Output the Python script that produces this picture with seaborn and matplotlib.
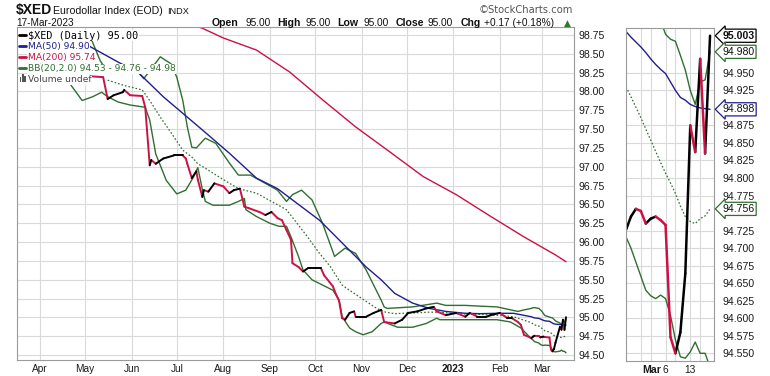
import matplotlib
matplotlib.use("Agg")
import matplotlib.pyplot as plt
from matplotlib.lines import Line2D
from matplotlib.patches import Rectangle
import numpy as np
import pandas as pd
import seaborn as sns

sns.set_theme(style="white")
plt.rcParams["font.family"] = ["Liberation Sans", "DejaVu Sans"]

# ------------------------------------------------------------------ data
price_dates = ["2022-05-06","2022-05-13","2022-05-16","2022-05-20","2022-05-26","2022-05-27","2022-05-31",
               "2022-06-08","2022-06-10","2022-06-13","2022-06-14","2022-06-17","2022-06-22","2022-06-29",
               "2022-07-05","2022-07-07","2022-07-08","2022-07-11","2022-07-14","2022-07-15","2022-07-18","2022-07-19","2022-07-22","2022-07-26",
               "2022-08-01","2022-08-05","2022-08-08","2022-08-12","2022-08-15","2022-08-18","2022-08-25","2022-08-29",
               "2022-09-02","2022-09-06","2022-09-09","2022-09-12","2022-09-15","2022-09-16","2022-09-20","2022-09-23","2022-09-26",
               "2022-10-05","2022-10-07","2022-10-13","2022-10-14","2022-10-17","2022-10-19","2022-10-21","2022-10-24","2022-10-27","2022-10-28","2022-10-31",
               "2022-11-04","2022-11-09","2022-11-14","2022-11-16","2022-11-23","2022-11-28",
               "2022-12-02","2022-12-08","2022-12-14","2022-12-19","2022-12-21","2022-12-27",
               "2023-01-03","2023-01-09","2023-01-12","2023-01-17","2023-01-23","2023-01-26",
               "2023-02-01","2023-02-06","2023-02-09","2023-02-13","2023-02-15","2023-02-17"]
price_values = [98.20,98.19,97.90,97.95,97.99,98.02,97.95,
                97.94,97.79,97.02,97.09,97.04,97.11,97.15,
                97.15,97.11,97.04,96.85,96.94,96.83,96.60,96.69,96.67,96.78,
                96.74,96.65,96.69,96.71,96.47,96.45,96.40,96.36,
                96.40,96.32,96.29,96.16,96.03,95.72,95.67,95.61,95.65,
                95.65,95.56,95.41,95.35,95.22,94.99,94.97,95.06,95.08,95.01,95.01,
                95.01,95.06,95.10,94.94,94.92,94.97,
                95.06,95.08,95.12,95.14,95.08,95.03,
                95.06,95.01,95.06,95.01,95.01,95.03,
                95.06,94.99,94.99,94.94,94.90,94.77]

ma50_dates = ["2022-05-03","2022-05-23","2022-06-06","2022-06-22","2022-07-05","2022-07-18","2022-08-05","2022-08-23",
              "2022-09-06","2022-09-16","2022-10-04","2022-10-17","2022-11-04","2022-11-14","2022-11-23","2022-12-05",
              "2022-12-16","2022-12-27","2023-01-09","2023-01-19","2023-01-30","2023-02-10"]
ma50_values = [98.61,98.39,98.24,97.93,97.71,97.49,97.18,96.85,96.71,96.56,96.29,96.03,95.67,95.50,95.32,95.19,
               95.12,95.08,95.055,95.05,95.055,95.055]

ma200_dates = ["2022-07-08","2022-07-18","2022-08-01","2022-08-23","2022-09-14","2022-10-06","2022-10-28","2022-11-21",
               "2022-12-12","2023-01-03","2023-01-26","2023-02-17","2023-03-10","2023-03-17"]
ma200_values = [98.90,98.84,98.71,98.55,98.26,97.89,97.53,97.18,96.87,96.63,96.34,96.07,95.83,95.74]

bbu_dates = ["2022-05-05","2022-05-11","2022-05-13","2022-05-24","2022-06-06","2022-06-09","2022-06-14","2022-06-20","2022-06-27",
             "2022-07-01","2022-07-05","2022-07-08","2022-07-11","2022-07-14","2022-07-20","2022-07-27",
             "2022-08-05","2022-08-11","2022-08-19","2022-08-29","2022-09-06","2022-09-12","2022-09-16","2022-09-22","2022-09-29",
             "2022-10-06","2022-10-14","2022-10-21","2022-10-28","2022-11-04","2022-11-14","2022-11-16","2022-11-18",
             "2022-12-05","2022-12-21","2022-12-27","2023-01-09","2023-01-19","2023-01-30","2023-02-13","2023-02-17"]
bbu_values = [98.70,98.41,98.35,98.27,98.24,98.17,98.30,98.46,98.37,
              98.19,97.88,97.53,97.26,97.25,97.38,97.31,
              97.05,96.89,96.89,96.78,96.69,96.54,96.63,96.69,96.56,
              96.25,95.81,95.92,95.85,95.63,95.23,95.14,95.12,
              95.14,95.19,95.16,95.16,95.15,95.14,95.08,95.10]

bbm_dates = ["2022-05-16","2022-05-27","2022-06-08","2022-06-13","2022-06-20","2022-06-29","2022-07-05","2022-07-11","2022-07-15","2022-07-20",
             "2022-08-01","2022-08-11","2022-08-23","2022-09-02","2022-09-12","2022-09-19","2022-09-26","2022-10-04","2022-10-11","2022-10-19",
             "2022-10-24","2022-11-02","2022-11-11","2022-11-17","2022-11-23","2022-12-05","2022-12-16","2022-12-22","2023-01-03","2023-01-19",
             "2023-01-30","2023-02-10"]
bbm_values = [98.15,98.08,98.02,97.88,97.66,97.40,97.22,97.13,97.04,96.98,
              96.83,96.71,96.65,96.54,96.43,96.25,96.07,95.85,95.68,95.43,
              95.36,95.24,95.12,95.07,95.05,95.06,95.07,95.07,95.05,95.04,
              95.03,95.01]

bbl_dates = ["2022-04-21","2022-04-29","2022-05-06","2022-05-12","2022-05-16","2022-05-23","2022-05-31",
             "2022-06-10","2022-06-13","2022-06-17","2022-06-24","2022-07-01","2022-07-07","2022-07-12","2022-07-15","2022-07-18","2022-07-20","2022-07-25",
             "2022-08-05","2022-08-11","2022-08-15","2022-08-16","2022-08-23","2022-09-01","2022-09-07","2022-09-12","2022-09-15","2022-09-20","2022-09-23","2022-09-29",
             "2022-10-06","2022-10-13","2022-10-17","2022-10-19","2022-10-24","2022-10-28","2022-11-02","2022-11-08","2022-11-14","2022-11-16","2022-11-21","2022-11-25",
             "2022-12-05","2022-12-14","2022-12-21","2022-12-23","2023-01-09","2023-01-19","2023-01-30","2023-02-08","2023-02-15"]
bbl_values = [98.10,97.88,97.93,97.99,97.93,97.86,97.82,
              97.79,97.62,97.17,96.82,96.64,96.69,96.86,96.99,96.70,96.54,96.49,
              96.49,96.54,96.58,96.43,96.34,96.25,96.21,96.21,96.07,95.81,95.63,95.50,
              95.43,95.36,95.23,95.01,94.86,94.81,94.77,94.81,94.92,94.94,94.90,94.87,
              94.87,94.92,94.99,94.97,94.97,94.97,94.97,94.94,94.86]

# daily detail of the last trading days (right-hand zoom panel)
mini_dates = ["2023-02-22","2023-02-23","2023-02-24","2023-02-27","2023-02-28","2023-03-01","2023-03-02","2023-03-03",
              "2023-03-06","2023-03-07","2023-03-08","2023-03-09","2023-03-10","2023-03-13","2023-03-14","2023-03-15",
              "2023-03-16","2023-03-17"]
mini_price = [94.726,94.745,94.756,94.753,94.735,94.742,94.745,94.740,94.733,94.573,94.550,94.580,94.664,94.875,94.837,94.970,94.835,95.003]
mini_ma50 = [95.009,95.001,94.994,94.987,94.979,94.970,94.962,94.955,94.949,94.937,94.925,94.915,94.911,94.905,94.902,94.900,94.899,94.898]
mini_bb_up = [95.12,95.13,95.13,95.12,95.10,95.08,95.05,95.025,95.005,94.998,94.995,94.975,94.954,94.925,94.905,94.937,94.940,94.980]
mini_bb_mid = [94.930,94.916,94.901,94.886,94.870,94.854,94.838,94.822,94.807,94.793,94.778,94.760,94.745,94.738,94.735,94.742,94.746,94.756]
mini_bb_low = [94.716,94.700,94.680,94.660,94.640,94.632,94.628,94.633,94.628,94.604,94.569,94.545,94.543,94.552,94.566,94.550,94.550,94.530]

month_ticks = ["2022-04-01","2022-05-01","2022-06-01","2022-07-01","2022-08-01","2022-09-01","2022-10-01",
               "2022-11-01","2022-12-01","2023-01-01","2023-02-01","2023-03-01"]
month_labels = ["Apr","May","Jun","Jul","Aug","Sep","Oct","Nov","Dec","2023","Feb","Mar"]
main_yticks = [94.50,94.75,95.00,95.25,95.50,95.75,96.00,96.25,96.50,96.75,97.00,97.25,97.50,97.75,98.00,98.25,98.50,98.75]
mini_yticks = [94.550,94.575,94.600,94.625,94.650,94.675,94.700,94.725,94.775,94.800,94.825,94.850,94.875,94.925,94.950]
mini_xgrid = [3, 5, 8, 10, 13, 15]
mini_xlabels = ["", "", "6", "", "13", ""]

# ------------------------------------------------------------------ style
RED = "#cc1144"
NAVY = "#1f1f8f"
GREEN = "#2f6f2f"
GRID = "#dadada"
SPINE = "#9a9a9a"
W, H = 770, 376


def fx(px):
    return px / W


def fy(py):
    return 1 - py / H


def frame(dates, vals):
    return pd.DataFrame({"date": pd.to_datetime(dates), "value": vals})


def up_down(df, xcol):
    rows = []
    for i in range(len(df) - 1):
        a, b = df.iloc[i], df.iloc[i + 1]
        d = "up" if b["value"] >= a["value"] else "down"
        rows.append((i, a[xcol], a["value"], d))
        rows.append((i, b[xcol], b["value"], d))
    return pd.DataFrame(rows, columns=["seg", xcol, "value", "dir"])


main_price = frame(price_dates + mini_dates, price_values + mini_price)
main_ma50 = frame(ma50_dates + mini_dates, ma50_values + mini_ma50)
main_ma200 = frame(ma200_dates, ma200_values)
main_bbu = frame(bbu_dates + mini_dates, bbu_values + mini_bb_up)
main_bbm = frame(bbm_dates + mini_dates, bbm_values + mini_bb_mid)
main_bbl = frame(bbl_dates + mini_dates, bbl_values + mini_bb_low)

days = list(range(len(mini_dates)))
mini = pd.DataFrame({"day": days, "price": mini_price, "ma50": mini_ma50,
                     "up": mini_bb_up, "mid": mini_bb_mid, "low": mini_bb_low})

fig = plt.figure(figsize=(W / 100, H / 100), dpi=100)
fig.patch.set_facecolor("white")

ax = fig.add_axes([fx(17), fy(360), fx(574) - fx(17), fy(27) - fy(360)])
ax2 = fig.add_axes([fx(626), fy(361), fx(714) - fx(626), fy(28) - fy(361)])

DOT = (0, (1.3, 1.6))

# ---------------------------------------------------------------- main panel
kw = dict(x="date", y="value", ax=ax, legend=False, estimator=None)
sns.lineplot(data=main_bbu, color=GREEN, linewidth=1.0, **kw)
sns.lineplot(data=main_bbl, color=GREEN, linewidth=1.0, **kw)
sns.lineplot(data=main_bbm, color=GREEN, linewidth=0.9, linestyle=DOT, **kw)
sns.lineplot(data=main_ma200, color=RED, linewidth=1.0, **kw)
sns.lineplot(data=main_ma50, color=NAVY, linewidth=1.0, **kw)
seg = up_down(main_price, "date")
sns.lineplot(data=seg, x="date", y="value", hue="dir", units="seg", estimator=None, sort=False,
             palette={"up": "black", "down": RED}, linewidth=1.4, legend=False, ax=ax)

ax.set_xlim(pd.Timestamp("2022-03-16 16:00"), pd.Timestamp("2023-03-22 08:00"))
ax.set_ylim(94.435, 98.856)
ax.set_xlabel("")
ax.set_ylabel("")
ax.set_xticks(pd.to_datetime(month_ticks))
ax.set_xticklabels(month_labels)
for t in ax.get_xticklabels():
    if t.get_text() == "2023":
        t.set_fontweight("bold")
ax.yaxis.tick_right()
ax.set_yticks(main_yticks)
ax.set_yticklabels([f"{v:.2f}" for v in main_yticks])
ax.tick_params(axis="y", length=0, pad=3, labelsize=7.6, colors="#1a1a1a")
ax.tick_params(axis="x", length=0, pad=3, labelsize=7.3, colors="#1a1a1a")
ax.grid(True, color=GRID, linewidth=0.8)
ax.set_axisbelow(True)
for s in ax.spines.values():
    s.set_color(SPINE)
    s.set_linewidth(0.8)

# ---------------------------------------------------------------- zoom panel
kw2 = dict(x="day", ax=ax2, legend=False, estimator=None)
sns.lineplot(data=mini, y="up", color=GREEN, linewidth=1.0, **kw2)
sns.lineplot(data=mini, y="low", color=GREEN, linewidth=1.0, **kw2)
sns.lineplot(data=mini, y="mid", color=GREEN, linewidth=0.9, linestyle=DOT, **kw2)
sns.lineplot(data=mini, y="ma50", color=NAVY, linewidth=1.0, **kw2)
seg2 = up_down(mini.rename(columns={"price": "value"})[["day", "value"]], "day")
sns.lineplot(data=seg2, x="day", y="value", hue="dir", units="seg", estimator=None, sort=False,
             palette={"up": "black", "down": RED}, linewidth=1.8, legend=False, ax=ax2)

ax2.set_xlim(0, 17.8)
ax2.set_ylim(94.539, 95.014)
ax2.set_xlabel("")
ax2.set_ylabel("")
ax2.set_xticks(mini_xgrid)
ax2.set_xticklabels(mini_xlabels)
ax2.yaxis.tick_right()
ax2.set_yticks(mini_yticks)
ax2.set_yticklabels([f"{v:.3f}" for v in mini_yticks])
ax2.tick_params(axis="y", length=0, pad=6, labelsize=7.6, colors="#1a1a1a")
ax2.tick_params(axis="x", length=0, pad=3, labelsize=7.3, colors="#1a1a1a")
ax2.grid(True, color=GRID, linewidth=0.8)
ax2.set_axisbelow(True)
for s in ax2.spines.values():
    s.set_color(SPINE)
    s.set_linewidth(0.8)
ax2.annotate("Mar", xy=(8, 0), xycoords=ax2.get_xaxis_transform(), xytext=(-3.2, -3),
             textcoords="offset points", ha="right", va="top", fontsize=7.6, fontweight="bold",
             color="#1a1a1a", annotation_clip=False)

# value flags on the zoom panel
flags = [(mini_price[-1], "black", True), (mini_bb_up[-1], GREEN, False),
         (mini_ma50[-1], NAVY, False), (mini_bb_mid[-1], GREEN, False)]
for val, col, bold in flags:
    ax2.annotate(f"{val:.3f}", xy=(1, val), xycoords=ax2.get_yaxis_transform(), xytext=(6, 0),
                 textcoords="offset points", ha="left", va="center", fontsize=7.6,
                 fontweight="bold" if bold else "normal", color="#111111",
                 bbox=dict(boxstyle="larrow,pad=0.15", fc="white", ec=col, lw=0.9),
                 annotation_clip=False, zorder=5)

# ---------------------------------------------------------------- legend
legend_rows = [
    (f"$XED (Daily) {mini_price[-1]:.2f}", "black", 38.7, "DejaVu Sans Mono", 7.3),
    (f"MA(50) {mini_ma50[-1]:.2f}", NAVY, 49.3, "DejaVu Sans", 6.6),
    (f"MA(200) {ma200_values[-1]:.2f}", RED, 60.3, "DejaVu Sans", 6.6),
    (f"BB(20,2.0) {mini_bb_low[-1]:.2f} - {mini_bb_mid[-1]:.2f} - {mini_bb_up[-1]:.2f}", GREEN, 71.3, "DejaVu Sans", 6.6),
]
for txt, col, base, fam, size in legend_rows:
    fig.text(fx(28), fy(base), txt, color=col, fontsize=size, family=fam, va="baseline",
             bbox=dict(fc="white", ec="none", pad=0.4), zorder=4)
    fig.add_artist(Line2D([fx(19), fx(26)], [fy(base - 3.3)] * 2, color=col, lw=2.0,
                          transform=fig.transFigure, zorder=5))
fig.text(fx(28), fy(82), "Volume undef", color="#444444", fontsize=6.6, family="DejaVu Sans",
         va="baseline", bbox=dict(fc="white", ec="none", pad=0.4), zorder=4)
for x0, h in [(19.5, 5), (22, 8), (24.5, 6)]:
    fig.add_artist(Rectangle((fx(x0), fy(82)), 1.6 / W, h / H, transform=fig.transFigure,
                             fc="#555555", ec="none", zorder=5))

# ---------------------------------------------------------------- header
fig.text(fx(16), fy(14), "$XED", fontsize=10.0, fontweight="bold", color="#111111", va="baseline")
fig.text(fx(53), fy(14), "Eurodollar Index (EOD)", fontsize=7.6, color="#111111", va="baseline")
fig.text(fx(167), fy(14), "INDX", fontsize=6.6, color="#111111", va="baseline")
fig.text(fx(16), fy(26), "17-Mar-2023", fontsize=7.2, color="#111111", va="baseline")
fig.text(fx(573), fy(13), "\u00a9StockCharts.com", fontsize=7.2, color="#555555", va="baseline",
         ha="right", family="DejaVu Sans")
header = [(212, "Open", True), (245, "95.00", False), (277, "High", True), (305, "95.00", False),
          (337, "Low", True), (364, "95.00", False), (396, "Close", True), (428, "95.00", False),
          (461, "Chg", True), (484, "+0.17 (+0.18%)", False)]
for x0, txt, bold in header:
    fig.text(fx(x0), fy(26), txt, fontsize=7.6 if bold else 7.3,
             fontweight="bold" if bold else "normal", color="#111111", va="baseline")
fig.text(fx(564), fy(26), "\u25b2", fontsize=6.5, color="#2a7a2a", va="baseline", family="DejaVu Sans")

fig.savefig("out.png", dpi=100, facecolor="white")
